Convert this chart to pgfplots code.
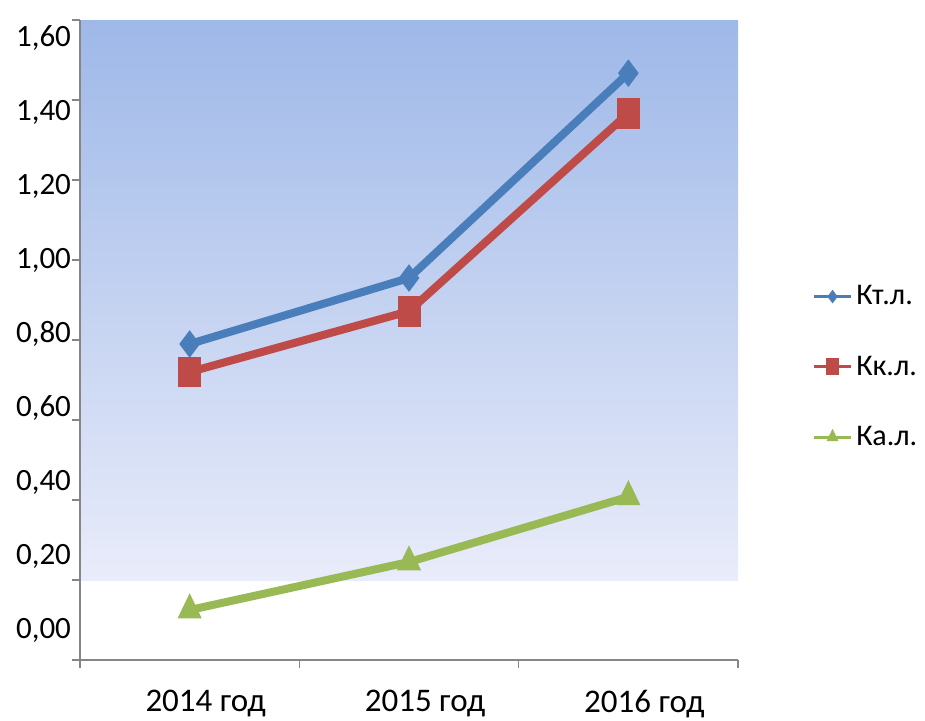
\documentclass[border=0pt]{standalone}
\usepackage{fontspec}
\setmainfont{Carlito}
\usepackage{pgfplots}
\pgfplotsset{compat=1.18}
\definecolor{cblue}{RGB}{74,126,187}
\definecolor{cred}{RGB}{190,75,72}
\definecolor{cgreen}{RGB}{152,185,84}
\definecolor{axgray}{RGB}{134,134,134}
\definecolor{bgtop}{RGB}{158,184,232}
\definecolor{bgbot}{RGB}{233,236,250}
\begin{document}
\begin{tikzpicture}
\useasboundingbox (-40pt,-30pt) rectangle (422.5pt,330pt);
\begin{axis}[
  at={(0,0)}, anchor=south west,
  scale only axis, width=329pt, height=320pt,
  xmin=-0.5, xmax=2.5, ymin=0, ymax=1.6,
  axis x line*=bottom, axis y line*=left,
  axis line style={draw=axgray, line width=0.8pt, -},
  tick align=outside, major tick length=4pt,
  tick style={draw=axgray, line width=0.8pt},
  xtick={-0.5,0.5,1.5,2.5},
  x tick label as interval,
  xticklabels={2014 год,2015 год,2016 год},
  xticklabel style={font=\fontsize{16.5}{19}\selectfont, yshift=-7.5pt, xshift=8pt},
  ytick={0,0.2,0.4,0.6,0.8,1.0,1.2,1.4,1.6},
  yticklabels={},
  extra y ticks={0.074,0.259,0.444,0.629,0.815,1.0,1.185,1.37,1.556},
  extra y tick labels={{0,00},{0,20},{0,40},{0,60},{0,80},{1,00},{1,20},{1,40},{1,60}},
  extra y tick style={tick style={draw=none}},
  yticklabel style={font=\fontsize{15.5}{18}\selectfont, xshift=3pt},
  axis on top,
  clip=false,
  legend style={at={(1.104,0.458)}, anchor=west, draw=none, fill=none,
    font=\fontsize{15}{18}\selectfont, row sep=20pt},
  legend cell align=left,
  legend image code/.code={
    \draw[#1, line width=1.5pt, mark=none] (0cm,0cm) -- (0.64cm,0cm);
    \draw[#1, mark size=3pt] plot coordinates {(0.32cm,0cm)};
  },
]
\path[top color=bgtop, bottom color=bgbot] (axis cs:-0.5,0.2) rectangle (axis cs:2.5,1.6);
\addplot[cblue, line width=4pt, mark=diamond*, mark size=6.5pt, mark options={solid, line width=0.5pt}]
  coordinates {(0,0.79) (1,0.955) (2,1.467)};
\addlegendentry{Кт.л.}
\addplot[cred, line width=4pt, mark=square*, mark size=5.5pt, mark options={solid, line width=0.5pt, yscale=1.35}]
  coordinates {(0,0.72) (1,0.872) (2,1.367)};
\addlegendentry{Кк.л.}
\addplot[cgreen, line width=4pt, mark=triangle*, mark size=6.5pt, mark options={solid, line width=0.5pt, yscale=1.2}]
  coordinates {(0,0.125) (1,0.245) (2,0.408)};
\addlegendentry{Ка.л.}
\end{axis}
\end{tikzpicture}
\end{document}
